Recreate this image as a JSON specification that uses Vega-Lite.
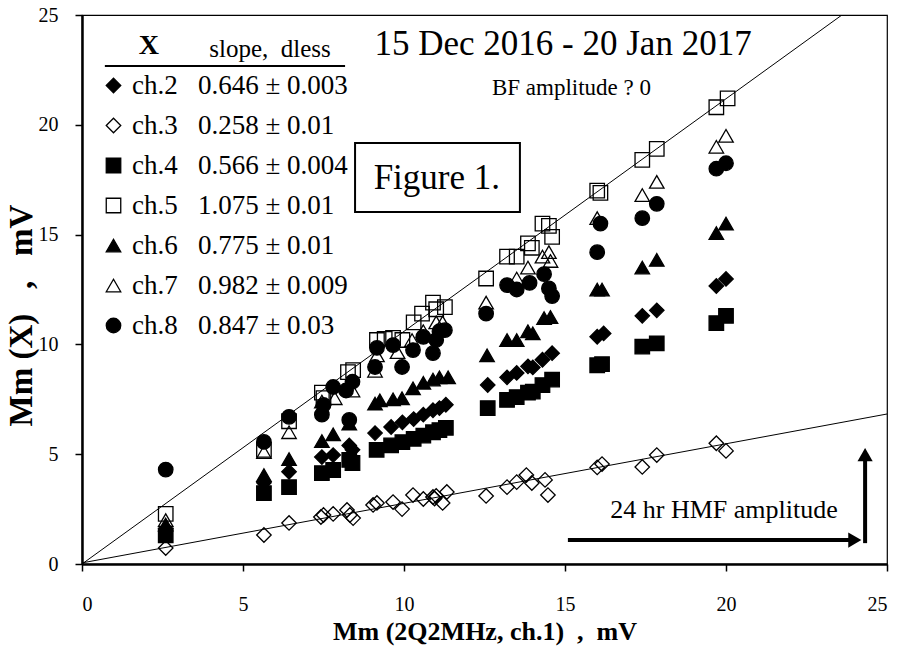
{
  "$schema": "https://vega.github.io/schema/vega-lite/v6.json",
  "width": 805,
  "height": 549,
  "autosize": "none",
  "padding": {"left": 82, "top": 15, "right": 15, "bottom": 88},
  "background": "white",
  "config": {
    "view": {"stroke": "black", "strokeWidth": 1.2},
    "font": "Liberation Serif",
    "axis": {
      "grid": false,
      "domainColor": "black",
      "domainWidth": 2.5,
      "tickColor": "black",
      "tickWidth": 1.5,
      "tickSize": 7,
      "labelFont": "Liberation Serif",
      "labelFontSize": 20,
      "labelColor": "black",
      "titleFont": "Liberation Serif",
      "titleFontWeight": "bold",
      "titleColor": "black"
    },
    "legend": {
      "labelFont": "Liberation Serif"
    }
  },
  "datasets": {
    "pts": [
      {"ch":"ch.2","x":2.6,"y":1.6},{"ch":"ch.2","x":5.65,"y":3.7},{"ch":"ch.2","x":6.43,"y":4.2},{"ch":"ch.2","x":7.45,"y":4.87},{"ch":"ch.2","x":7.8,"y":4.96},{"ch":"ch.2","x":8.3,"y":5.4},{"ch":"ch.2","x":8.4,"y":5.2},{"ch":"ch.2","x":9.1,"y":5.96},{"ch":"ch.2","x":9.6,"y":6.24},{"ch":"ch.2","x":9.95,"y":6.45},{"ch":"ch.2","x":10.3,"y":6.6},{"ch":"ch.2","x":10.6,"y":6.8},{"ch":"ch.2","x":10.9,"y":7.0},{"ch":"ch.2","x":11.1,"y":7.1},{"ch":"ch.2","x":11.3,"y":7.25},{"ch":"ch.2","x":12.6,"y":8.15},{"ch":"ch.2","x":13.2,"y":8.5},{"ch":"ch.2","x":13.5,"y":8.7},{"ch":"ch.2","x":13.85,"y":9.0},{"ch":"ch.2","x":14.0,"y":8.95},{"ch":"ch.2","x":14.3,"y":9.3},{"ch":"ch.2","x":14.6,"y":9.6},{"ch":"ch.2","x":16.0,"y":10.35},{"ch":"ch.2","x":16.2,"y":10.5},{"ch":"ch.2","x":17.4,"y":11.3},{"ch":"ch.2","x":17.85,"y":11.55},{"ch":"ch.2","x":19.7,"y":12.66},{"ch":"ch.2","x":20.0,"y":12.98},
      {"ch":"ch.3","x":2.6,"y":0.73},{"ch":"ch.3","x":5.65,"y":1.32},{"ch":"ch.3","x":6.43,"y":1.87},{"ch":"ch.3","x":7.42,"y":2.14},{"ch":"ch.3","x":7.5,"y":2.23},{"ch":"ch.3","x":7.8,"y":2.28},{"ch":"ch.3","x":8.23,"y":2.46},{"ch":"ch.3","x":8.32,"y":2.23},{"ch":"ch.3","x":8.42,"y":2.09},{"ch":"ch.3","x":9.04,"y":2.69},{"ch":"ch.3","x":9.16,"y":2.78},{"ch":"ch.3","x":9.66,"y":2.82},{"ch":"ch.3","x":9.94,"y":2.5},{"ch":"ch.3","x":10.28,"y":3.14},{"ch":"ch.3","x":10.6,"y":2.96},{"ch":"ch.3","x":10.9,"y":3.05},{"ch":"ch.3","x":10.95,"y":2.98},{"ch":"ch.3","x":11.0,"y":3.1},{"ch":"ch.3","x":11.2,"y":2.78},{"ch":"ch.3","x":11.33,"y":3.28},{"ch":"ch.3","x":12.55,"y":3.1},{"ch":"ch.3","x":13.2,"y":3.5},{"ch":"ch.3","x":13.5,"y":3.73},{"ch":"ch.3","x":13.8,"y":4.05},{"ch":"ch.3","x":13.97,"y":3.69},{"ch":"ch.3","x":14.38,"y":3.83},{"ch":"ch.3","x":14.47,"y":3.14},{"ch":"ch.3","x":16.0,"y":4.4},{"ch":"ch.3","x":16.15,"y":4.55},{"ch":"ch.3","x":17.4,"y":4.42},{"ch":"ch.3","x":17.85,"y":4.96},{"ch":"ch.3","x":19.7,"y":5.5},{"ch":"ch.3","x":20.0,"y":5.15},
      {"ch":"ch.4","x":2.6,"y":1.3},{"ch":"ch.4","x":5.65,"y":3.23},{"ch":"ch.4","x":6.43,"y":3.5},{"ch":"ch.4","x":7.45,"y":4.14},{"ch":"ch.4","x":7.8,"y":4.28},{"ch":"ch.4","x":8.3,"y":4.74},{"ch":"ch.4","x":8.4,"y":4.6},{"ch":"ch.4","x":9.15,"y":5.2},{"ch":"ch.4","x":9.6,"y":5.4},{"ch":"ch.4","x":9.95,"y":5.55},{"ch":"ch.4","x":10.3,"y":5.7},{"ch":"ch.4","x":10.6,"y":5.85},{"ch":"ch.4","x":10.9,"y":6.0},{"ch":"ch.4","x":11.1,"y":6.1},{"ch":"ch.4","x":11.3,"y":6.2},{"ch":"ch.4","x":12.6,"y":7.1},{"ch":"ch.4","x":13.2,"y":7.47},{"ch":"ch.4","x":13.5,"y":7.6},{"ch":"ch.4","x":13.85,"y":7.8},{"ch":"ch.4","x":14.0,"y":7.85},{"ch":"ch.4","x":14.3,"y":8.15},{"ch":"ch.4","x":14.6,"y":8.4},{"ch":"ch.4","x":16.0,"y":9.05},{"ch":"ch.4","x":16.15,"y":9.1},{"ch":"ch.4","x":17.4,"y":9.9},{"ch":"ch.4","x":17.85,"y":10.05},{"ch":"ch.4","x":19.7,"y":10.97},{"ch":"ch.4","x":20.0,"y":11.3},
      {"ch":"ch.5","x":2.6,"y":2.28},{"ch":"ch.5","x":5.65,"y":5.2},{"ch":"ch.5","x":6.43,"y":6.5},{"ch":"ch.5","x":7.45,"y":7.8},{"ch":"ch.5","x":7.5,"y":7.55},{"ch":"ch.5","x":8.26,"y":8.74},{"ch":"ch.5","x":8.42,"y":8.83},{"ch":"ch.5","x":9.16,"y":10.2},{"ch":"ch.5","x":9.4,"y":10.25},{"ch":"ch.5","x":9.66,"y":10.3},{"ch":"ch.5","x":9.95,"y":10.2},{"ch":"ch.5","x":10.3,"y":11.0},{"ch":"ch.5","x":10.56,"y":11.4},{"ch":"ch.5","x":10.9,"y":11.9},{"ch":"ch.5","x":11.0,"y":11.6},{"ch":"ch.5","x":11.27,"y":11.7},{"ch":"ch.5","x":12.55,"y":13.0},{"ch":"ch.5","x":13.2,"y":14.0},{"ch":"ch.5","x":13.5,"y":14.0},{"ch":"ch.5","x":13.85,"y":14.6},{"ch":"ch.5","x":13.97,"y":14.4},{"ch":"ch.5","x":14.3,"y":15.5},{"ch":"ch.5","x":14.5,"y":15.4},{"ch":"ch.5","x":14.6,"y":14.9},{"ch":"ch.5","x":16.0,"y":17.0},{"ch":"ch.5","x":16.1,"y":16.9},{"ch":"ch.5","x":17.4,"y":18.4},{"ch":"ch.5","x":17.85,"y":18.9},{"ch":"ch.5","x":19.7,"y":20.8},{"ch":"ch.5","x":20.05,"y":21.2},
      {"ch":"ch.6","x":2.6,"y":1.8},{"ch":"ch.6","x":5.65,"y":4.05},{"ch":"ch.6","x":6.43,"y":4.78},{"ch":"ch.6","x":7.45,"y":5.6},{"ch":"ch.6","x":7.8,"y":5.9},{"ch":"ch.6","x":8.3,"y":6.4},{"ch":"ch.6","x":9.1,"y":7.3},{"ch":"ch.6","x":9.25,"y":7.45},{"ch":"ch.6","x":9.66,"y":7.5},{"ch":"ch.6","x":9.94,"y":7.55},{"ch":"ch.6","x":10.28,"y":8.0},{"ch":"ch.6","x":10.6,"y":8.25},{"ch":"ch.6","x":10.9,"y":8.4},{"ch":"ch.6","x":11.1,"y":8.5},{"ch":"ch.6","x":11.37,"y":8.5},{"ch":"ch.6","x":12.58,"y":9.5},{"ch":"ch.6","x":13.2,"y":10.2},{"ch":"ch.6","x":13.5,"y":10.2},{"ch":"ch.6","x":13.85,"y":10.6},{"ch":"ch.6","x":14.0,"y":10.5},{"ch":"ch.6","x":14.35,"y":11.2},{"ch":"ch.6","x":14.55,"y":11.25},{"ch":"ch.6","x":16.0,"y":12.5},{"ch":"ch.6","x":16.15,"y":12.5},{"ch":"ch.6","x":17.4,"y":13.5},{"ch":"ch.6","x":17.85,"y":13.85},{"ch":"ch.6","x":19.7,"y":15.07},{"ch":"ch.6","x":20.0,"y":15.5},
      {"ch":"ch.7","x":2.6,"y":2.0},{"ch":"ch.7","x":5.65,"y":5.1},{"ch":"ch.7","x":6.43,"y":6.0},{"ch":"ch.7","x":7.45,"y":7.4},{"ch":"ch.7","x":7.85,"y":7.55},{"ch":"ch.7","x":8.4,"y":7.9},{"ch":"ch.7","x":9.1,"y":8.8},{"ch":"ch.7","x":9.16,"y":9.5},{"ch":"ch.7","x":9.8,"y":9.65},{"ch":"ch.7","x":10.25,"y":10.2},{"ch":"ch.7","x":10.6,"y":10.6},{"ch":"ch.7","x":11.0,"y":11.0},{"ch":"ch.7","x":11.2,"y":11.0},{"ch":"ch.7","x":12.55,"y":11.9},{"ch":"ch.7","x":13.5,"y":13.0},{"ch":"ch.7","x":13.85,"y":13.5},{"ch":"ch.7","x":14.3,"y":14.0},{"ch":"ch.7","x":14.5,"y":14.2},{"ch":"ch.7","x":14.55,"y":13.8},{"ch":"ch.7","x":16.0,"y":15.75},{"ch":"ch.7","x":17.4,"y":16.8},{"ch":"ch.7","x":17.85,"y":17.4},{"ch":"ch.7","x":19.7,"y":19.0},{"ch":"ch.7","x":20.0,"y":19.5},
      {"ch":"ch.8","x":2.6,"y":4.3},{"ch":"ch.8","x":5.65,"y":5.56},{"ch":"ch.8","x":6.43,"y":6.7},{"ch":"ch.8","x":7.45,"y":6.8},{"ch":"ch.8","x":7.5,"y":7.24},{"ch":"ch.8","x":7.8,"y":8.06},{"ch":"ch.8","x":8.2,"y":7.9},{"ch":"ch.8","x":8.4,"y":8.3},{"ch":"ch.8","x":8.3,"y":6.56},{"ch":"ch.8","x":9.1,"y":8.97},{"ch":"ch.8","x":9.16,"y":9.84},{"ch":"ch.8","x":9.66,"y":9.97},{"ch":"ch.8","x":9.94,"y":8.97},{"ch":"ch.8","x":10.28,"y":9.74},{"ch":"ch.8","x":10.6,"y":10.34},{"ch":"ch.8","x":10.9,"y":9.6},{"ch":"ch.8","x":11.0,"y":10.2},{"ch":"ch.8","x":11.1,"y":10.6},{"ch":"ch.8","x":11.27,"y":10.65},{"ch":"ch.8","x":12.55,"y":11.4},{"ch":"ch.8","x":13.2,"y":12.7},{"ch":"ch.8","x":13.5,"y":12.5},{"ch":"ch.8","x":13.9,"y":12.8},{"ch":"ch.8","x":14.35,"y":13.2},{"ch":"ch.8","x":14.5,"y":12.55},{"ch":"ch.8","x":14.6,"y":12.2},{"ch":"ch.8","x":16.0,"y":14.2},{"ch":"ch.8","x":16.1,"y":15.5},{"ch":"ch.8","x":17.4,"y":15.75},{"ch":"ch.8","x":17.85,"y":16.4},{"ch":"ch.8","x":19.7,"y":18.0},{"ch":"ch.8","x":20.0,"y":18.25}
    ],
    "fits": [
      {"fit":"upper","x":0,"y":0},{"fit":"upper","x":23.6,"y":25},
      {"fit":"lower","x":0,"y":0.05},{"fit":"lower","x":25,"y":6.83}
    ]
  },
  "layer": [
    {
      "data": {"name": "fits"},
      "mark": {"type": "line", "color": "black", "strokeWidth": 1, "clip": true},
      "encoding": {
        "x": {"field": "x", "type": "quantitative", "scale": {"domain": [0, 25], "nice": false},
              "axis": {"values": [0, 5, 10, 15, 20, 25], "title": "Mm (2Q2MHz, ch.1)\u00a0\u00a0,\u00a0\u00a0mV", "titleFontSize": 26, "labelPadding": 23, "titlePadding": 4}},
        "y": {"field": "y", "type": "quantitative", "scale": {"domain": [0, 25], "nice": false},
              "axis": {"values": [0, 5, 10, 15, 20, 25], "title": "Mm (X)\u00a0\u00a0\u00a0,\u00a0\u00a0\u00a0mV", "titleFontSize": 33, "labelPadding": 17, "titlePadding": 0, "titleY": 300}},
        "detail": {"field": "fit"}
      }
    },
    {
      "data": {"name": "pts"},
      "mark": {"type": "point", "filled": true, "strokeWidth": 1.3, "size": 210, "opacity": 1},
      "encoding": {
        "x": {"field": "x", "type": "quantitative"},
        "y": {"field": "y", "type": "quantitative"},
        "shape": {"field": "ch", "type": "nominal",
          "scale": {"domain": ["ch.2","ch.3","ch.4","ch.5","ch.6","ch.7","ch.8"], "range": ["diamond","diamond","square","square","triangle-up","triangle-up","circle"]},
          "legend": {"title": null, "orient": "none", "legendX": 18, "legendY": 57, "symbolSize": 210, "symbolStrokeWidth": 1.3, "labelFont": "Liberation Serif", "labelFontSize": 27, "labelColor": "black", "labelOffset": 5, "rowPadding": 12, "padding": 0, "labelLimit": 500,
            "labelExpr": "datum.label == 'ch.2' ? 'ch.2\u00a0\u00a0\u00a00.646 ± 0.003' : datum.label == 'ch.3' ? 'ch.3\u00a0\u00a0\u00a00.258 ± 0.01' : datum.label == 'ch.4' ? 'ch.4\u00a0\u00a0\u00a00.566 ± 0.004' : datum.label == 'ch.5' ? 'ch.5\u00a0\u00a0\u00a01.075 ± 0.01' : datum.label == 'ch.6' ? 'ch.6\u00a0\u00a0\u00a00.775 ± 0.01' : datum.label == 'ch.7' ? 'ch.7\u00a0\u00a0\u00a00.982 ± 0.009' : 'ch.8\u00a0\u00a0\u00a00.847 ± 0.03'"}},
        "fill": {"field": "ch", "type": "nominal",
          "scale": {"domain": ["ch.2","ch.3","ch.4","ch.5","ch.6","ch.7","ch.8"], "range": ["black","transparent","black","transparent","black","transparent","black"]},
          "legend": {"title": null, "orient": "none", "legendX": 18, "legendY": 57, "symbolSize": 210, "symbolStrokeWidth": 1.3, "labelFont": "Liberation Serif", "labelFontSize": 27, "labelColor": "black", "labelOffset": 5, "rowPadding": 12, "padding": 0, "labelLimit": 500,
            "labelExpr": "datum.label == 'ch.2' ? 'ch.2\u00a0\u00a0\u00a00.646 ± 0.003' : datum.label == 'ch.3' ? 'ch.3\u00a0\u00a0\u00a00.258 ± 0.01' : datum.label == 'ch.4' ? 'ch.4\u00a0\u00a0\u00a00.566 ± 0.004' : datum.label == 'ch.5' ? 'ch.5\u00a0\u00a0\u00a01.075 ± 0.01' : datum.label == 'ch.6' ? 'ch.6\u00a0\u00a0\u00a00.775 ± 0.01' : datum.label == 'ch.7' ? 'ch.7\u00a0\u00a0\u00a00.982 ± 0.009' : 'ch.8\u00a0\u00a0\u00a00.847 ± 0.03'"}},
        "stroke": {"field": "ch", "type": "nominal",
          "scale": {"domain": ["ch.2","ch.3","ch.4","ch.5","ch.6","ch.7","ch.8"], "range": ["black","black","black","black","black","black","black"]},
          "legend": {"title": null, "orient": "none", "legendX": 18, "legendY": 57, "symbolSize": 210, "symbolStrokeWidth": 1.3, "labelFont": "Liberation Serif", "labelFontSize": 27, "labelColor": "black", "labelOffset": 5, "rowPadding": 12, "padding": 0, "labelLimit": 500,
            "labelExpr": "datum.label == 'ch.2' ? 'ch.2\u00a0\u00a0\u00a00.646 ± 0.003' : datum.label == 'ch.3' ? 'ch.3\u00a0\u00a0\u00a00.258 ± 0.01' : datum.label == 'ch.4' ? 'ch.4\u00a0\u00a0\u00a00.566 ± 0.004' : datum.label == 'ch.5' ? 'ch.5\u00a0\u00a0\u00a01.075 ± 0.01' : datum.label == 'ch.6' ? 'ch.6\u00a0\u00a0\u00a00.775 ± 0.01' : datum.label == 'ch.7' ? 'ch.7\u00a0\u00a0\u00a00.982 ± 0.009' : 'ch.8\u00a0\u00a0\u00a00.847 ± 0.03'"}}
      }
    },
    {
      "data": {"values": [{}]},
      "mark": {"type": "text", "font": "Liberation Serif", "fontWeight": "bold", "fontSize": 28, "color": "black", "align": "center", "baseline": "middle"},
      "encoding": {"x": {"datum": 2.08}, "y": {"datum": 23.6}, "text": {"value": "X"}}
    },
    {
      "data": {"values": [{}]},
      "mark": {"type": "text", "font": "Liberation Serif", "fontSize": 25, "color": "black", "align": "center", "baseline": "middle"},
      "encoding": {"x": {"datum": 5.84}, "y": {"datum": 23.45}, "text": {"value": "slope,\u00a0\u00a0dless"}}
    },
    {
      "data": {"values": [{}]},
      "mark": {"type": "rule", "color": "black", "strokeWidth": 2},
      "encoding": {"x": {"datum": 0.71}, "x2": {"datum": 8.17}, "y": {"datum": 22.68}}
    },
    {
      "data": {"values": [{}]},
      "mark": {"type": "text", "font": "Liberation Serif", "fontSize": 35, "color": "black", "align": "center", "baseline": "middle"},
      "encoding": {"x": {"datum": 14.94}, "y": {"datum": 23.68}, "text": {"value": "15 Dec 2016 - 20 Jan 2017"}}
    },
    {
      "data": {"values": [{}]},
      "mark": {"type": "text", "font": "Liberation Serif", "fontSize": 23, "color": "black", "align": "center", "baseline": "middle"},
      "encoding": {"x": {"datum": 15.2}, "y": {"datum": 21.68}, "text": {"value": "BF amplitude ? 0"}}
    },
    {
      "data": {"values": [{}]},
      "mark": {"type": "rect", "fill": "white", "stroke": "black", "strokeWidth": 2},
      "encoding": {"x": {"datum": 8.48}, "x2": {"datum": 13.6}, "y": {"datum": 19.17}, "y2": {"datum": 16.03}}
    },
    {
      "data": {"values": [{}]},
      "mark": {"type": "text", "font": "Liberation Serif", "fontSize": 35, "color": "black", "align": "center", "baseline": "middle"},
      "encoding": {"x": {"datum": 11.02}, "y": {"datum": 17.6}, "text": {"value": "Figure 1."}}
    },
    {
      "data": {"values": [{}]},
      "mark": {"type": "text", "font": "Liberation Serif", "fontSize": 26, "color": "black", "align": "center", "baseline": "middle"},
      "encoding": {"x": {"datum": 19.94}, "y": {"datum": 2.46}, "text": {"value": "24 hr HMF amplitude"}}
    },
    {
      "data": {"values": [{}]},
      "mark": {"type": "rule", "color": "black", "strokeWidth": 4},
      "encoding": {"x": {"datum": 15.09}, "x2": {"datum": 23.85}, "y": {"datum": 1.09}}
    },
    {
      "data": {"values": [{}]},
      "mark": {"type": "rule", "color": "black", "strokeWidth": 4},
      "encoding": {"x": {"datum": 24.32}, "y": {"datum": 0.95}, "y2": {"datum": 4.7}}
    },
    {
      "data": {"values": [{}]},
      "mark": {"type": "point", "shape": "triangle-right", "filled": true, "color": "black", "size": 230, "opacity": 1},
      "encoding": {"x": {"datum": 24.0}, "y": {"datum": 1.09}}
    },
    {
      "data": {"values": [{}]},
      "mark": {"type": "point", "shape": "triangle-up", "filled": true, "color": "black", "size": 230, "opacity": 1},
      "encoding": {"x": {"datum": 24.32}, "y": {"datum": 4.98}}
    }
  ]
}
